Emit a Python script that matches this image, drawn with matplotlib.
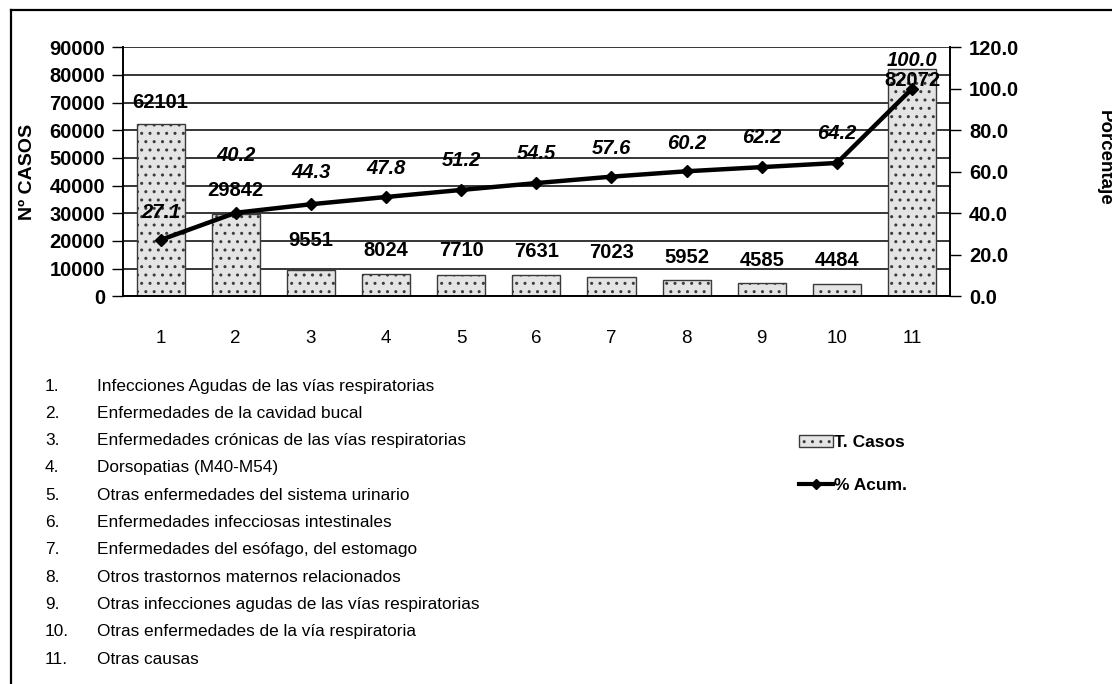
import matplotlib

matplotlib.use("Agg")
import matplotlib.pyplot as plt
from matplotlib.lines import Line2D
from matplotlib.patches import Patch

# data
categorias = list(range(1, 12))
casos = [62101, 29842, 9551, 8024, 7710, 7631, 7023, 5952, 4585, 4484, 82072]
pct_acum = [27.1, 40.2, 44.3, 47.8, 51.2, 54.5, 57.6, 60.2, 62.2, 64.2, 100.0]
descripciones = [
    "Infecciones Agudas de las vías respiratorias",
    "Enfermedades de la cavidad bucal",
    "Enfermedades crónicas de las vías respiratorias",
    "Dorsopatias (M40-M54)",
    "Otras enfermedades del sistema urinario",
    "Enfermedades infecciosas intestinales",
    "Enfermedades del esófago, del estomago",
    "Otros trastornos maternos relacionados",
    "Otras infecciones agudas de las vías respiratorias",
    "Otras enfermedades de la vía respiratoria",
    "Otras causas",
]

# label placement (as drawn in the original excel chart)
y_lab_casos = [70100, 38300, 20200, 16600, 16500, 16000, 15800, 14100, 13000, 13000, 78000]
y_lab_pct = [40.5, 68.0, 59.8, 61.7, 65.5, 68.9, 71.3, 73.7, 76.6, 78.6, 113.7]

ARIAL = ["Liberation Sans", "DejaVu Sans"]

fig = plt.figure(figsize=(11.12, 6.84), dpi=100)
ax = fig.add_axes([0.1106, 0.567, 0.7434, 0.364])
ax2 = ax.twinx()

ax.set_axisbelow(True)
ax.yaxis.grid(True, color="black", linewidth=1.1)
ax.bar(categorias, casos, width=0.64, color="#e4e4e4", edgecolor="#3a3a3a",
       linewidth=1.0, hatch="..", zorder=2)
ax.set_xlim(0.5, 11.5)
ax.set_ylim(0, 90000)
ax.set_yticks(range(0, 90001, 10000))
ax.set_xticks(categorias)
ax.set_xticklabels([str(c) for c in categorias], family=ARIAL, fontsize=13.5)
ax.tick_params(axis="x", length=0, pad=24)
ax.tick_params(axis="y", direction="out", length=8, width=1, pad=5)
for lab in ax.get_yticklabels():
    lab.set_fontfamily(ARIAL)
    lab.set_fontweight("bold")
    lab.set_fontsize(14.5)
ax.spines["top"].set_visible(False)
ax.spines["right"].set_visible(False)
for s in ("left", "bottom"):
    ax.spines[s].set_linewidth(1.4)
ax.set_ylabel("Nº CASOS", family=ARIAL, fontweight="bold", fontsize=14)
ax.yaxis.set_label_coords(-0.105, 0.5)

for x, v, yl in zip(categorias, casos, y_lab_casos):
    ax.text(x, yl, str(v), ha="center", va="center", family=ARIAL,
            fontweight="bold", fontsize=14.5, zorder=5)

ax2.plot(categorias, pct_acum, color="black", linewidth=3.2, marker="D",
         markersize=6, zorder=4)
ax2.set_ylim(0, 120)
ax2.set_yticks(range(0, 121, 20))
ax2.set_yticklabels([f"{t:.1f}" for t in range(0, 121, 20)])
ax2.tick_params(axis="y", direction="out", length=8, width=1, pad=6)
for lab in ax2.get_yticklabels():
    lab.set_fontfamily(ARIAL)
    lab.set_fontweight("bold")
    lab.set_fontsize(14.5)
for s in ("top", "left", "bottom"):
    ax2.spines[s].set_visible(False)
ax2.spines["right"].set_linewidth(1.4)

for x, p, yl in zip(categorias, pct_acum, y_lab_pct):
    ax2.text(x, yl, f"{p:.1f}", ha="center", va="center", family=ARIAL,
             fontweight="bold", fontstyle="italic", fontsize=14.5, zorder=5)

fig.text(1104 / 1112, 1 - 158 / 684, "Porcentaje", rotation=-90, ha="center",
         va="center", family=ARIAL, fontweight="bold", fontsize=13.5)

# numbered list of causes
y0, dy = 1 - 386 / 684, 27.3 / 684
for i, d in enumerate(descripciones):
    fig.text(45 / 1112, y0 - i * dy, f"{i + 1}.", ha="left", va="center",
             family=ARIAL, fontsize=12.4)
    fig.text(97 / 1112, y0 - i * dy, d, ha="left", va="center",
             family=ARIAL, fontsize=12.4)

handles = [
    Patch(facecolor="#e4e4e4", edgecolor="#3a3a3a", hatch="..", label="T. Casos"),
    Line2D([0], [0], color="black", linewidth=3, marker="D", markersize=5,
           label="% Acum."),
]
fig.legend(handles=handles, loc="upper left", bbox_to_anchor=(790 / 1112, 1 - 426 / 684),
           frameon=False, labelspacing=1.6, handlelength=2.0, handletextpad=0.05,
           borderpad=0, prop={"family": ARIAL, "weight": "bold", "size": 12.5})

# outer frame (top and left edges)
fig.add_artist(Line2D([11 / 1112, 1], [1 - 10 / 684, 1 - 10 / 684], color="black", linewidth=1.6))
fig.add_artist(Line2D([11 / 1112, 11 / 1112], [0, 1 - 10 / 684], color="black", linewidth=1.6))

fig.savefig("out.png", dpi=100)
